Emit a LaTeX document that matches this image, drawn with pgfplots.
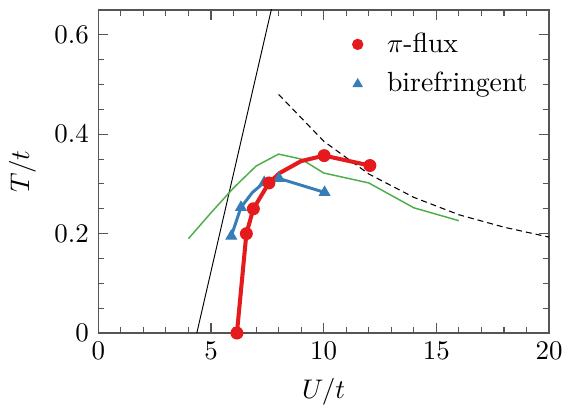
\documentclass[border=0pt]{standalone}
\usepackage{pgfplots}
\pgfplotsset{compat=1.18}
\definecolor{cred}{HTML}{E41A1C}
\definecolor{cblue}{HTML}{377EB8}
\definecolor{cgreen}{HTML}{4DAF4A}
\definecolor{axgray}{HTML}{555555}
\begin{document}
\begin{tikzpicture}
\begin{axis}[
  scale only axis, width=167.4pt, height=120pt,
  xmin=0, xmax=20, ymin=0, ymax=0.65,
  xtick={0,5,10,15,20}, ytick={0,0.2,0.4,0.6},
  minor x tick num=4, minor y tick num=3,
  tick align=inside,
  major tick length=3.7pt, minor tick length=2.2pt,
  axis line style={axgray, line width=0.45pt},
  every tick/.style={axgray, line width=0.4pt},
  xlabel={$U/t$}, ylabel={$T/t$},
  legend style={draw=none, fill=none, at={(rel axis cs:0.545,0.965)}, anchor=north west,
    font=\fontsize{10.3}{13}\selectfont, row sep=2pt, column sep=7pt},
  legend cell align=left,
]
\addlegendimage{only marks, mark=*, color=cred, mark size=1.9pt}
\addlegendentry{$\pi$-flux}
\addlegendimage{only marks, mark=triangle*, color=cblue, mark size=1.9pt}
\addlegendentry{birefringent}
% black solid line
\addplot[black, line width=0.35pt, forget plot] coordinates {(4.37,0) (7.8,0.675)};
% dashed
\addplot[black, line width=0.4pt, dash pattern=on 2.2pt off 1.5pt, forget plot] coordinates {
 (8,0.480) (10,0.386) (12,0.320) (14,0.273) (16,0.238) (18,0.213) (20,0.193)};
% green
\addplot[cgreen, line width=0.55pt, forget plot] coordinates {
 (4,0.19) (5,0.242) (6,0.292) (7,0.336) (8,0.360) (9,0.350) (10,0.322) (12,0.302) (14,0.252) (16,0.226)};
% blue
\addplot[cblue, line width=1.1pt, forget plot] coordinates {
 (5.9,0.195) (6.33,0.253) (6.84,0.283) (7.36,0.303) (8.02,0.311) (10.04,0.283)};
\addplot[cblue, only marks, mark=triangle*, mark size=2.2pt, forget plot] coordinates {
 (5.9,0.195) (6.33,0.253) (7.36,0.303) (8.02,0.311) (10.04,0.283)};
% red
\addplot[cred, line width=1.5pt, forget plot] coordinates {
 (6.15,0) (6.57,0.2) (6.88,0.25) (7.57,0.302) (8.05,0.322) (9.0,0.346) (10.02,0.357) (12.05,0.337)};
\addplot[cred, only marks, mark=*, mark size=2.2pt, forget plot] coordinates {
 (6.15,0) (6.57,0.2) (6.88,0.25) (7.57,0.302) (10.02,0.357) (12.05,0.337)};
\end{axis}
\path (current axis.south west) ++(-35.9pt,-26.7pt);
\path (current axis.north east) ++(9.26pt,3.7pt);
\end{tikzpicture}
\end{document}
